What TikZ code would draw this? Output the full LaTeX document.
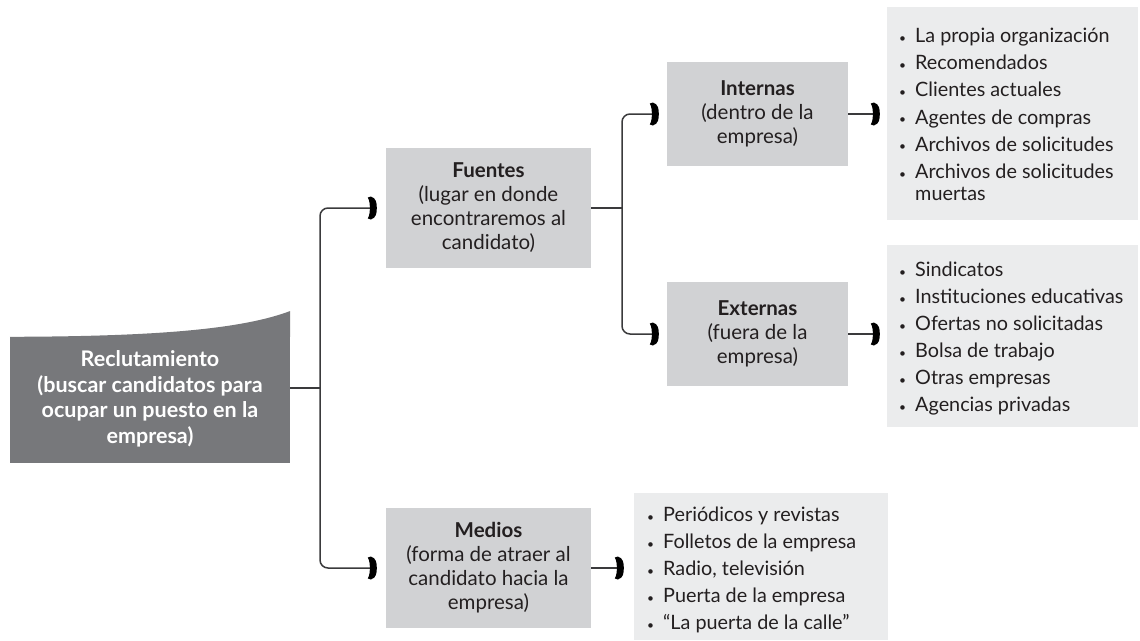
\documentclass[tikz,border=0pt]{standalone}
\usepackage{fontspec}
\setmainfont{Lato}
\usetikzlibrary{arrows.meta}

\definecolor{darkbox}{HTML}{77787B}
\definecolor{midbox}{HTML}{D1D2D4}
\definecolor{lightbox}{HTML}{EBECED}
\definecolor{ink}{HTML}{231F20}
\definecolor{wire}{HTML}{3A3A3C}

% Thick crescent-shaped tip, like a bold closing bracket
\pgfdeclarearrow{
  name = Crescent,
  setup code = {
    \pgfarrowssettipend{0pt}
    \pgfarrowssetlineend{-5pt}
    \pgfarrowssetbackend{-10pt}
    \pgfarrowsupperhullpoint{-10pt}{11.5pt}
    \pgfarrowsupperhullpoint{0pt}{11.5pt}
  },
  drawing code = {
    \pgfpathmoveto{\pgfqpoint{-6pt}{11.5pt}}
    \pgfpathcurveto{\pgfqpoint{-0.5pt}{10pt}}{\pgfqpoint{0pt}{5pt}}{\pgfqpoint{0pt}{0pt}}
    \pgfpathcurveto{\pgfqpoint{0pt}{-5pt}}{\pgfqpoint{-0.5pt}{-10pt}}{\pgfqpoint{-6pt}{-11.5pt}}
    \pgfpathlineto{\pgfqpoint{-9pt}{-10.5pt}}
    \pgfpathcurveto{\pgfqpoint{-7pt}{-7pt}}{\pgfqpoint{-7pt}{-3pt}}{\pgfqpoint{-7pt}{0pt}}
    \pgfpathcurveto{\pgfqpoint{-7pt}{3pt}}{\pgfqpoint{-7pt}{7pt}}{\pgfqpoint{-9pt}{10.5pt}}
    \pgfpathclose
    \pgfusepathqfill
  }
}

\newcommand{\itembullet}{\makebox[16pt][l]{\raisebox{0.5pt}{\fontsize{12}{12}\selectfont\textbullet}}}

\tikzset{
  wire/.style={draw=wire, line width=1.5pt, rounded corners=8pt},
  tip/.style={-{Crescent[color=black]}},
  topicbox/.style={fill=midbox, inner sep=0pt, align=center, text=ink,
    font=\fontsize{20.5}{24}\selectfont},
  listbox/.style={fill=lightbox, inner sep=0pt},
  itemtext/.style={anchor=base west, inner sep=0pt, text=ink,
    font=\fontsize{19.8}{23}\selectfont},
  rootbox/.style={fill=darkbox, inner sep=0pt, align=center, text=white,
    font=\bfseries\fontsize{21.5}{25.5}\selectfont},
}

\begin{document}
\begin{tikzpicture}[x=1pt,y=-1pt]
\useasboundingbox (0,0) rectangle (1140,640);

% root box with its curved cap
\node[rootbox, minimum width=280pt, minimum height=126pt] (rec) at (150,400) {};
\fill[darkbox] (rec.north west) .. controls (150,336.5) and (240,330) .. (rec.north east |- 0,311)
  -- (rec.north east) -- cycle;
\node[rootbox, fill=none] (rectext) at (150,399)
  {Reclutamiento\\(buscar candidatos para\\ocupar un puesto en la\\empresa)};

% second level
\node[topicbox, minimum width=205pt, minimum height=120pt] (fue) at (488.5,208)
  {\textbf{Fuentes}\\(lugar en donde\\encontraremos al\\candidato)};
\node[topicbox, minimum width=205pt, minimum height=120pt] (med) at (488.5,568)
  {\textbf{Medios}\\(forma de atraer al\\candidato hacia la\\empresa)};

% third level
\node[topicbox, minimum width=181pt, minimum height=104pt] (int) at (757.5,114)
  {\textbf{Internas}\\(dentro de la\\empresa)};
\node[topicbox, minimum width=181pt, minimum height=104pt] (ext) at (757.5,334)
  {\textbf{Externas}\\(fuera de la\\empresa)};

% list panels
\node[listbox, minimum width=251pt, minimum height=213pt] (intl) at (1012.5,113.5) {};
\node[listbox, minimum width=251pt, minimum height=182pt] (extl) at (1012.5,336) {};
\node[listbox, minimum width=254pt, minimum height=147pt] (medl) at (761,566.5) {};

% list entries
\foreach \t [count=\i] in {La propia organización, Recomendados, Clientes actuales,
    Agentes de compras, Archivos de solicitudes, Archivos de solicitudes}
  \node[itemtext] (intl-\i) at (899,{42.5+(\i-1)*27.2}) {\itembullet\t};
\node[itemtext] (intl-7) at (915,200.5) {muertas};

\foreach \t [count=\i] in {Sindicatos, Instituciones educativas, Ofertas no solicitadas,
    Bolsa de trabajo, Otras empresas, Agencias privadas}
  \node[itemtext] (extl-\i) at (899,{276.5+(\i-1)*27}) {\itembullet\t};

\foreach \t [count=\i] in {Periódicos y revistas, Folletos de la empresa, {Radio, televisión},
    Puerta de la empresa, “La puerta de la calle”}
  \node[itemtext] (medl-\i) at (647,{521.5+(\i-1)*27}) {\itembullet\t};

% connectors
\coordinate (j1) at (320,388);
\coordinate (j2) at (622,208);
\draw[wire] (rec.east |- j1) -- (j1);
\draw[wire, tip] (j1) |- ([xshift=-9pt]fue.west);
\draw[wire, tip] (j1) |- ([xshift=-9pt]med.west);
\draw[wire] (fue.east) -- (j2);
\draw[wire, tip] (j2) |- ([xshift=-8pt]int.west);
\draw[wire, tip] (j2) |- ([xshift=-8pt]ext.west);
\draw[wire, tip] (int.east) -- ([xshift=-7pt]intl.west |- int.east);
\draw[wire, tip] (ext.east) -- ([xshift=-7pt]extl.west |- ext.east);
\draw[wire, tip] (med.east) -- ([xshift=-10pt]medl.west |- med.east);
\end{tikzpicture}
\end{document}
